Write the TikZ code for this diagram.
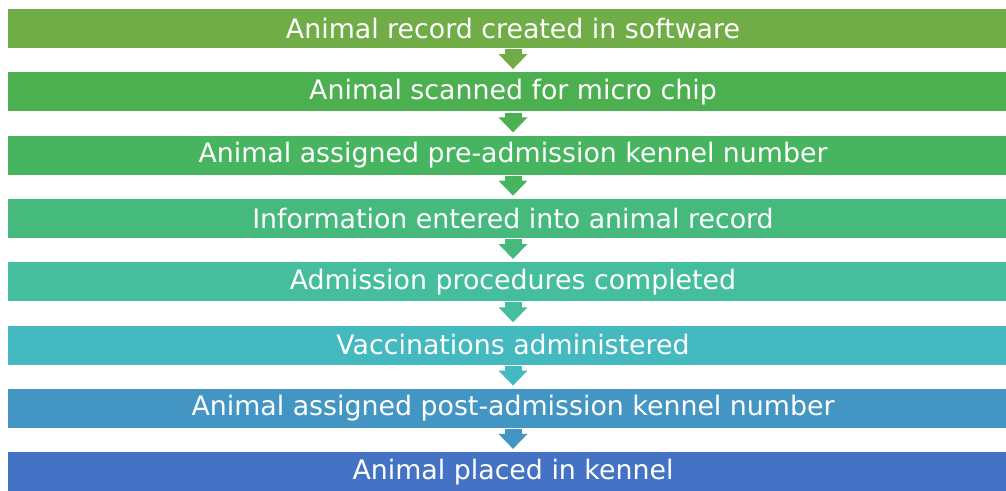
\documentclass[tikz,border=0pt]{standalone}
\usepackage{fontspec}
\setmainfont{DejaVu Sans}
\usetikzlibrary{arrows.meta}

% stage colours, green to blue
\definecolor{cA}{RGB}{112,173,71}
\definecolor{cB}{RGB}{77,176,80}
\definecolor{cC}{RGB}{71,181,96}
\definecolor{cD}{RGB}{70,186,124}
\definecolor{cE}{RGB}{69,190,158}
\definecolor{cF}{RGB}{68,185,192}
\definecolor{cG}{RGB}{67,150,196}
\definecolor{cH}{RGB}{68,114,196}

\tikzset{
  stagebar/.style={rectangle, fill=#1, draw=none, minimum width=1010pt,
    minimum height=39pt, inner sep=0pt, text=white,
    font=\fontsize{26.8}{30}\selectfont},
  flowarrow/.style={draw=#1, line width=17pt, shorten >=3pt,
    -{Triangle[width=28pt,length=15pt]}}
}

\begin{document}
\begin{tikzpicture}[x=1pt,y=-1pt]
\clip (0,0) rectangle (1006,490);
\fill[white] (0,0) rectangle (1006,490);

% the eight stages, top to bottom
\node[stagebar=cA] (s1) at (513, 28.5)  {Animal record created in software};
\node[stagebar=cB] (s2) at (513, 91.8)  {Animal scanned for micro chip};
\node[stagebar=cC] (s3) at (513, 155.1) {Animal assigned pre-admission kennel number};
\node[stagebar=cD] (s4) at (513, 218.4) {Information entered into animal record};
\node[stagebar=cE] (s5) at (513, 281.7) {Admission procedures completed};
\node[stagebar=cF] (s6) at (513, 345.0) {Vaccinations administered};
\node[stagebar=cG] (s7) at (513, 408.3) {Animal assigned post-admission kennel number};
\node[stagebar=cH] (s8) at (513, 471.6) {Animal placed in kennel};

% arrows between consecutive stages
\draw[flowarrow=cA] ([yshift=-1pt]s1.south) -- (s2.north);
\draw[flowarrow=cB] ([yshift=-1pt]s2.south) -- (s3.north);
\draw[flowarrow=cC] ([yshift=-1pt]s3.south) -- (s4.north);
\draw[flowarrow=cD] ([yshift=-1pt]s4.south) -- (s5.north);
\draw[flowarrow=cE] ([yshift=-1pt]s5.south) -- (s6.north);
\draw[flowarrow=cF] ([yshift=-1pt]s6.south) -- (s7.north);
\draw[flowarrow=cG] ([yshift=-1pt]s7.south) -- (s8.north);
\end{tikzpicture}
\end{document}
